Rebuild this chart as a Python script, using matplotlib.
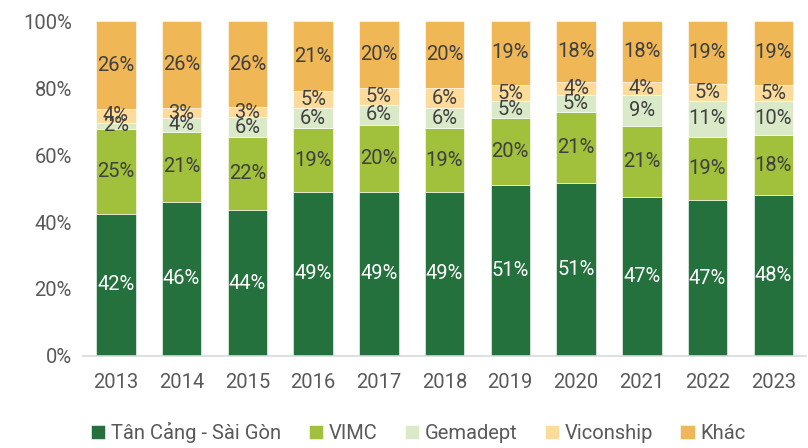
import numpy as np
import matplotlib.pyplot as plt
from matplotlib.ticker import FuncFormatter

years = ['2013', '2014', '2015', '2016', '2017', '2018',
         '2019', '2020', '2021', '2022', '2023']
tan_cang = [42, 46, 44, 49, 49, 49, 51, 51, 47, 47, 48]
vimc = [25, 21, 22, 19, 20, 19, 20, 21, 21, 19, 18]
gemadept = [2, 4, 6, 6, 6, 6, 5, 5, 9, 11, 10]
viconship = [4, 3, 3, 5, 5, 6, 5, 4, 4, 5, 5]
khac = [26, 26, 26, 21, 20, 20, 19, 18, 18, 19, 19]

names = ['Tân Cảng - Sài Gòn', 'VIMC', 'Gemadept', 'Viconship', 'Khác']
series = [tan_cang, vimc, gemadept, viconship, khac]
colors = ['#24713E', '#A1C03B', '#DAEAC8', '#FDDC9B', '#F0B757']
text_colors = ['white', '#404040', '#404040', '#404040', '#404040']

plt.rcParams['font.family'] = ['Roboto', 'DejaVu Sans']

fig = plt.figure(figsize=(8.08, 4.48), dpi=100)
ax = fig.add_axes([0.1027, 0.2054, 0.895, 0.7476])

data = np.array(series, dtype=float)
# stack as 100% bars
shares = data / data.sum(axis=0) * 100
x = np.arange(len(years))
bottom = np.zeros(len(years))
for i in range(len(series)):
    ax.bar(x, shares[i], 0.6, bottom=bottom, color=colors[i],
           edgecolor='white', linewidth=0.4, label=names[i])
    for j in range(len(years)):
        ax.text(x[j], bottom[j] + shares[i][j] / 2, '%d%%' % series[i][j],
                ha='center', va='center', fontsize=14.5, color=text_colors[i])
    bottom += shares[i]

ax.set_xlim(-0.5, len(years) - 0.5)
ax.set_ylim(0, 100)
ax.set_yticks(range(0, 101, 20))
ax.yaxis.set_major_formatter(FuncFormatter(lambda v, p: '%d%%' % v))
ax.set_xticks(x)
ax.set_xticklabels(years)
ax.tick_params(axis='both', length=0, labelsize=14.5, colors='#595959')
ax.tick_params(axis='x', pad=12)
ax.tick_params(axis='y', pad=8)
for s in ['top', 'right', 'left']:
    ax.spines[s].set_visible(False)
ax.spines['bottom'].set_color('#D9D9D9')
ax.spines['bottom'].set_linewidth(1.2)

leg = fig.legend(loc='center', bbox_to_anchor=(0.518, 0.034), ncol=5,
                 frameon=False, fontsize=14.5, handlelength=0.7,
                 handleheight=0.7, handletextpad=0.3, columnspacing=1.35)
for t in leg.get_texts():
    t.set_color('#595959')

fig.savefig('out.png', dpi=100)
